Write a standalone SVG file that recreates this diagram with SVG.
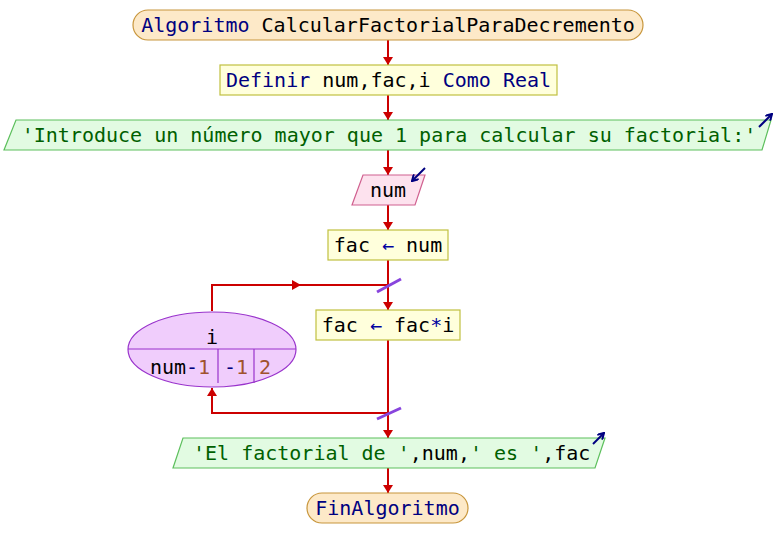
<svg xmlns="http://www.w3.org/2000/svg" width="776" height="558" viewBox="0 0 776 558">
<defs>
<marker id="ah" viewBox="0 0 8 10" refX="8" refY="5" markerWidth="8" markerHeight="10" markerUnits="userSpaceOnUse" orient="auto"><path d="M0,0 L8,5 L0,10 z" fill="#cc0000"/></marker>
<marker id="io" viewBox="0 0 8 8" refX="7" refY="4" markerWidth="8" markerHeight="8" markerUnits="userSpaceOnUse" orient="auto"><path d="M1,0.5 L7,4 L1,7.5" fill="none" stroke="#000080" stroke-width="2"/></marker>
<style>
text{font-family:"DejaVu Sans Mono","Liberation Mono",monospace;font-size:20px;fill:#000}
.kw{fill:#000080}
.st{fill:#006000}
.nm{fill:#a0522d}
.op{fill:#0000a0}
.term{fill:#fde9c8;stroke:#c8963c;stroke-width:1.2}
.proc{fill:#ffffdc;stroke:#c0c040;stroke-width:1.2}
.out{fill:#e2fbe2;stroke:#5cbf5c;stroke-width:1.2}
.inp{fill:#fde2ee;stroke:#d0608f;stroke-width:1.2}
.loop{fill:#f0cdfc;stroke:#9933cc;stroke-width:1.2}
.c{fill:none;stroke:#cc0000;stroke-width:2}
.sl{stroke:#8844dd;stroke-width:3}
.ic{fill:none;stroke:#000080;stroke-width:2}
</style>
</defs>

<g id="connectors">
<line class="c" x1="388" y1="40" x2="388" y2="65" marker-end="url(#ah)"/>
<line class="c" x1="388" y1="95" x2="388" y2="120" marker-end="url(#ah)"/>
<line class="c" x1="388" y1="150" x2="388" y2="175" marker-end="url(#ah)"/>
<line class="c" x1="388" y1="205" x2="388" y2="230" marker-end="url(#ah)"/>
<line class="c" x1="388" y1="260" x2="388" y2="310" marker-end="url(#ah)"/>
<polyline class="c" points="212,311 212,285 388,285"/>
<polygon points="292,280 301,285 292,290" fill="#cc0000"/>
<line class="c" x1="388" y1="340" x2="388" y2="438" marker-end="url(#ah)"/>
<polyline class="c" points="388,413 212,413 212,388" marker-end="url(#ah)"/>
<line class="c" x1="388" y1="468" x2="388" y2="493" marker-end="url(#ah)"/>
<line class="sl" x1="377" y1="292" x2="401" y2="279"/>
<line class="sl" x1="377" y1="419" x2="401" y2="408"/>
</g>

<g id="start">
<rect class="term" x="133" y="10" width="510" height="30" rx="15" ry="15"/>
<text x="388" y="32" text-anchor="middle"><tspan class="kw">Algoritmo </tspan><tspan>CalcularFactorialParaDecremento</tspan></text>
</g>

<g id="definir">
<rect class="proc" x="220" y="65" width="337" height="30"/>
<text x="388.5" y="87" text-anchor="middle"><tspan class="kw">Definir </tspan><tspan>num,fac,i </tspan><tspan class="kw">Como Real</tspan></text>
</g>

<g id="escribir1">
<polygon class="out" points="16,120 771,120 762,150 4,150"/>
<text x="389" y="142" text-anchor="middle" class="st">'Introduce un número mayor que 1 para calcular su factorial:'</text>
<line class="ic" x1="759" y1="127" x2="772" y2="114" marker-end="url(#io)"/>
</g>

<g id="leer">
<polygon class="inp" points="363,175 425,175 415,205 352,205"/>
<text x="388" y="197" text-anchor="middle">num</text>
<line class="ic" x1="425" y1="168" x2="412" y2="181" marker-end="url(#io)"/>
</g>

<g id="asig1">
<rect class="proc" x="328" y="230" width="120" height="30"/>
<text x="388" y="252" text-anchor="middle"><tspan>fac </tspan><tspan class="op">←</tspan><tspan> num</tspan></text>
</g>

<g id="para">
<ellipse class="loop" cx="212" cy="349.5" rx="84" ry="37.5"/>
<line x1="128" y1="349" x2="296" y2="349" stroke="#9933cc" stroke-width="1.2"/>
<line x1="218" y1="349" x2="218" y2="383" stroke="#9933cc" stroke-width="1.2"/>
<line x1="254" y1="349" x2="254" y2="383" stroke="#9933cc" stroke-width="1.2"/>
<text x="212" y="344" text-anchor="middle">i</text>
<text x="180" y="374" text-anchor="middle"><tspan>num</tspan><tspan class="kw">-</tspan><tspan class="nm">1</tspan></text>
<text x="236" y="374" text-anchor="middle"><tspan class="kw">-</tspan><tspan class="nm">1</tspan></text>
<text x="265" y="374" text-anchor="middle" class="nm">2</text>
</g>

<g id="asig2">
<rect class="proc" x="316" y="310" width="144" height="30"/>
<text x="388" y="332" text-anchor="middle"><tspan>fac </tspan><tspan class="op">←</tspan><tspan> fac</tspan><tspan class="op">*</tspan><tspan>i</tspan></text>
</g>

<g id="escribir2">
<polygon class="out" points="183,438 605,438 595,468 173,468"/>
<text x="193" y="460"><tspan class="st">'El factorial de '</tspan><tspan>,num,</tspan><tspan class="st">' es '</tspan><tspan>,fac</tspan></text>
<line class="ic" x1="593" y1="444" x2="604" y2="433" marker-end="url(#io)"/>
</g>

<g id="fin">
<rect class="term" x="307" y="493" width="161" height="30" rx="15" ry="15"/>
<text x="387.5" y="515" text-anchor="middle" class="kw">FinAlgoritmo</text>
</g>
</svg>
